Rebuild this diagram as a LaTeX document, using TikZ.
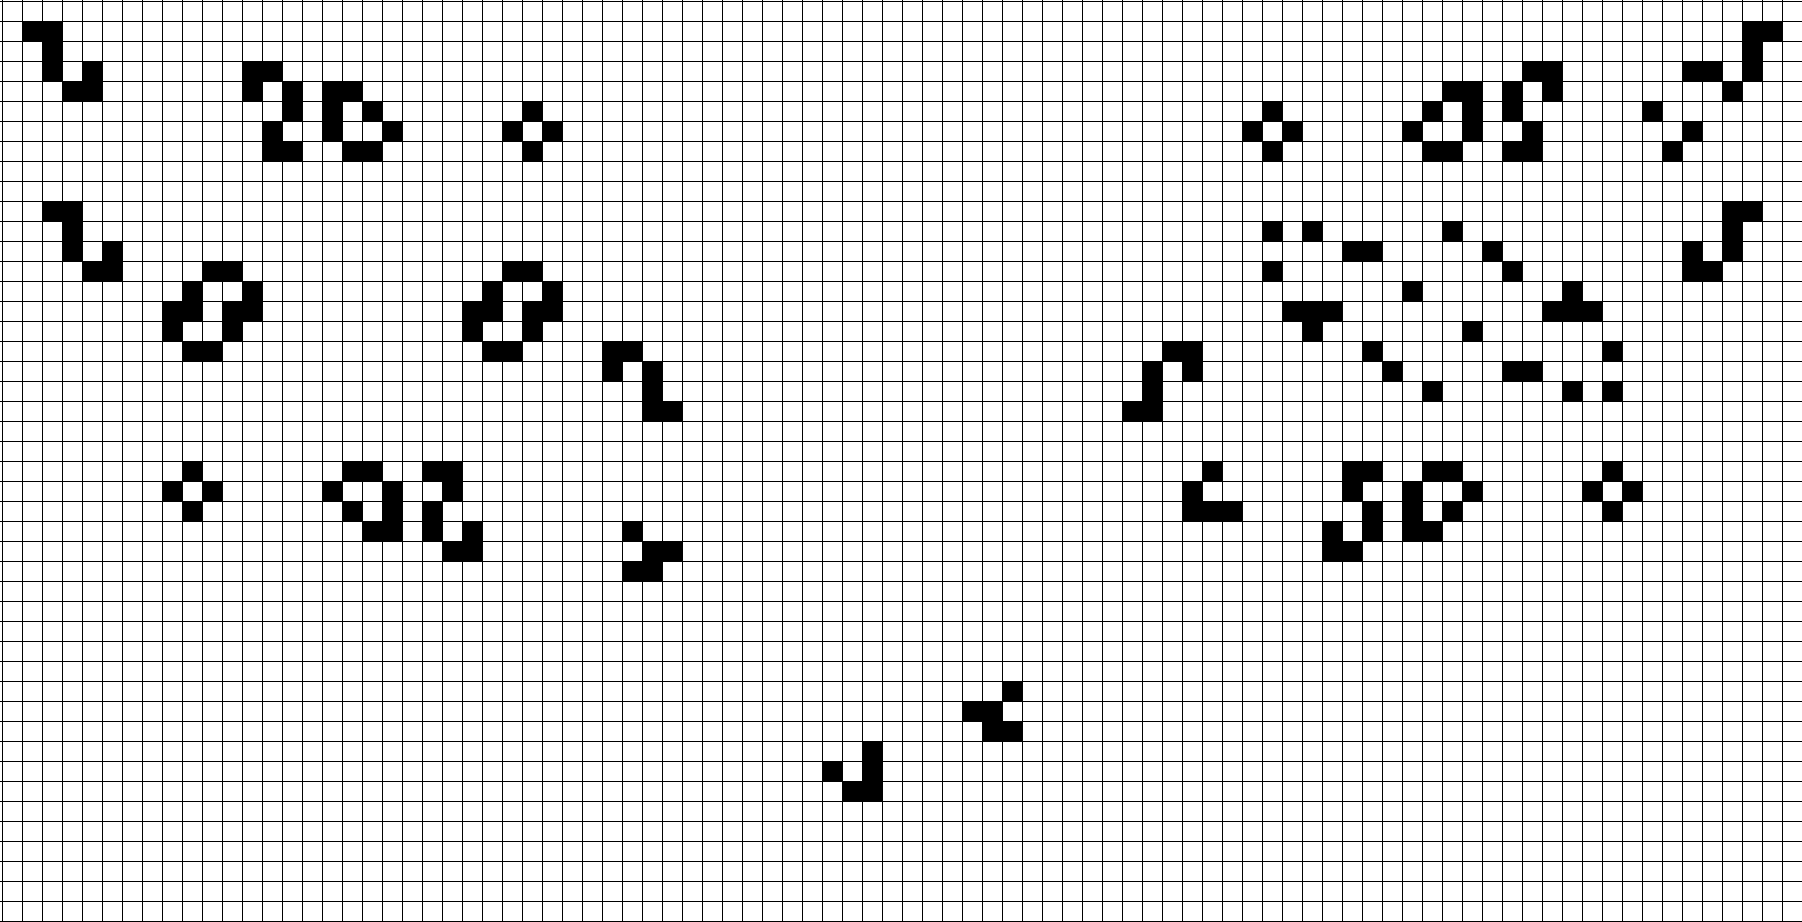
\documentclass[tikz,border=0pt]{standalone}
\begin{document}
\begin{tikzpicture}[x=0.5pt,y=-0.5pt]
\tikzset{gridline/.style={draw=black,line width=0.6pt}, alive/.style={fill=black}}
\useasboundingbox (0,0) rectangle (1802,921);
\fill[white] (0,0) rectangle (1802,921);
\begin{scope}
\clip (0,0) rectangle (1802,921);
\foreach \c in {0,...,90} \draw[gridline] ({2.7+20*\c},0) -- ({2.7+20*\c},921);
\foreach \r in {0,...,46} \draw[gridline] (0,{1.3+20*\r}) -- (1802,{1.3+20*\r});
\foreach \c/\r in {
1/1,2/1,2/2,2/3,4/3,3/4,4/4,
12/3,13/3,12/4,14/4,16/4,17/4,14/5,16/5,18/5,13/6,16/6,19/6,13/7,14/7,17/7,18/7,
26/5,25/6,27/6,26/7,
2/10,3/10,3/11,3/12,5/12,4/13,5/13,
10/13,11/13,9/14,12/14,8/15,9/15,11/15,12/15,8/16,11/16,9/17,10/17,
25/13,26/13,24/14,27/14,23/15,24/15,26/15,27/15,23/16,26/16,24/17,25/17,
30/17,31/17,30/18,32/18,32/19,32/20,33/20,
9/23,8/24,10/24,9/25,
17/23,18/23,21/23,22/23,16/24,19/24,22/24,17/25,19/25,21/25,18/26,19/26,21/26,23/26,22/27,23/27,
31/26,32/27,33/27,31/28,32/28,
50/34,48/35,49/35,49/36,50/36,
43/37,41/38,43/38,42/39,43/39,
87/1,88/1,87/2,84/3,85/3,87/3,86/4,
76/3,77/3,72/4,73/4,75/4,77/4,71/5,73/5,75/5,70/6,73/6,76/6,71/7,72/7,75/7,76/7,
63/5,62/6,64/6,63/7,
82/5,84/6,83/7,
86/10,87/10,86/11,84/12,86/12,84/13,85/13,
63/11,65/11,72/11,67/12,68/12,74/12,63/13,75/13,70/14,78/14,64/15,65/15,66/15,77/15,78/15,79/15,
65/16,73/16,68/17,80/17,69/18,75/18,76/18,71/19,78/19,80/19,
58/17,59/17,57/18,59/18,57/19,56/20,57/20,
60/23,59/24,59/25,60/25,61/25,
67/23,68/23,71/23,72/23,67/24,70/24,73/24,68/25,70/25,72/25,66/26,68/26,70/26,71/26,66/27,67/27,
80/23,79/24,81/24,80/25}
  \fill[alive] ({2.7+20*\c},{1.3+20*\r}) rectangle ++(20,20);
\end{scope}
\end{tikzpicture}
\end{document}
